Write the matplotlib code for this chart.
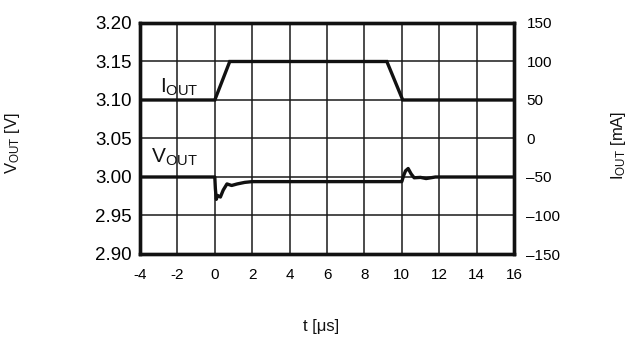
import matplotlib
matplotlib.use("Agg")
import matplotlib.pyplot as plt

plt.rcParams["font.family"] = ["Liberation Sans", "DejaVu Sans"]
plt.rcParams["mathtext.fontset"] = "custom"
plt.rcParams["mathtext.rm"] = "Liberation Sans"
plt.rcParams["mathtext.it"] = "Liberation Sans"

# Time axis
x_ticks = [-4, -2, 0, 2, 4, 6, 8, 10, 12, 14, 16]
x_tick_labels = ["-4", "-2", "0", "2", "4", "6", "8", "10", "12", "14", "16"]

# Left axis: output voltage
v_ticks = [2.90, 2.95, 3.00, 3.05, 3.10, 3.15, 3.20]
v_tick_labels = ["2.90", "2.95", "3.00", "3.05", "3.10", "3.15", "3.20"]

# Right axis: output current
i_ticks = [-150, -100, -50, 0, 50, 100, 150]
i_tick_labels = ["\u2013150", "\u2013100", "\u201350", "0", "50", "100", "150"]

# Load current step (mA)
t_iout = [-4, 0, 0.8, 9.2, 10.05, 16]
iout = [50, 50, 100, 100, 50, 50]

# Output voltage response (V)
t_vout = [-4, 0, 0.03, 0.08, 0.15, 0.3, 0.45, 0.65, 0.9, 1.2, 1.6, 2.0,
          10.0, 10.1, 10.2, 10.34, 10.5, 10.66, 11.0, 11.3, 11.8, 12.2, 16]
vout = [3.000, 3.000, 2.985, 2.971, 2.976, 2.974, 2.983, 2.991, 2.989, 2.991, 2.993, 2.994,
        2.994, 3.002, 3.008, 3.011, 3.004, 2.999, 2.9995, 2.998, 3.000, 3.000, 3.000]

fig = plt.figure(figsize=(6.3, 3.38), dpi=100)
ax = fig.add_axes([140 / 630, 1 - 254 / 338, 374 / 630, 231 / 338])
ax2 = ax.twinx()

ax.set_xlim(-4, 16)
ax.set_ylim(2.90, 3.20)
ax2.set_ylim(-150, 150)

ax.set_xticks(x_ticks)
ax.set_xticklabels(x_tick_labels, fontsize=11)
ax.set_yticks(v_ticks)
ax.set_yticklabels(v_tick_labels, fontsize=13.5)
ax2.set_yticks(i_ticks)
ax2.set_yticklabels(i_tick_labels, fontsize=11)

ax.tick_params(axis="x", length=0, pad=10)
ax.tick_params(axis="y", length=0, pad=6)
ax2.tick_params(axis="y", length=0, pad=9)

ax.grid(True, color="#1a1a1a", linewidth=1.1)
ax.set_axisbelow(True)
for sp in list(ax.spines.values()) + list(ax2.spines.values()):
    sp.set_linewidth(2.4)
    sp.set_color("#111111")

ax.plot(t_vout, vout, color="#111111", linewidth=2.4, solid_joinstyle="round", zorder=3)
ax2.plot(t_iout, iout, color="#111111", linewidth=2.4, solid_joinstyle="miter", zorder=3)

ax.text(-2.95, 3.117, r"$\mathrm{I}_{\mathrm{OUT}}$", fontsize=15, ha="left", va="center", color="#111111")
ax.text(-3.4, 3.025, r"$\mathrm{V}_{\mathrm{OUT}}$", fontsize=15, ha="left", va="center", color="#111111")

fig.text(13 / 630, 1 - 143 / 338, r"$\mathrm{V}_{\mathrm{OUT}}$ [V]", rotation=90,
         ha="center", va="center", fontsize=12, color="#111111")
fig.text(619 / 630, 1 - 145 / 338, r"$\mathrm{I}_{\mathrm{OUT}}$ [mA]", rotation=90,
         ha="center", va="center", fontsize=12, color="#111111")
fig.text(321 / 630, 1 - 327 / 338, "t [\u03bcs]", ha="center", va="center",
         fontsize=12, color="#111111")

fig.savefig("out.png", dpi=100)
